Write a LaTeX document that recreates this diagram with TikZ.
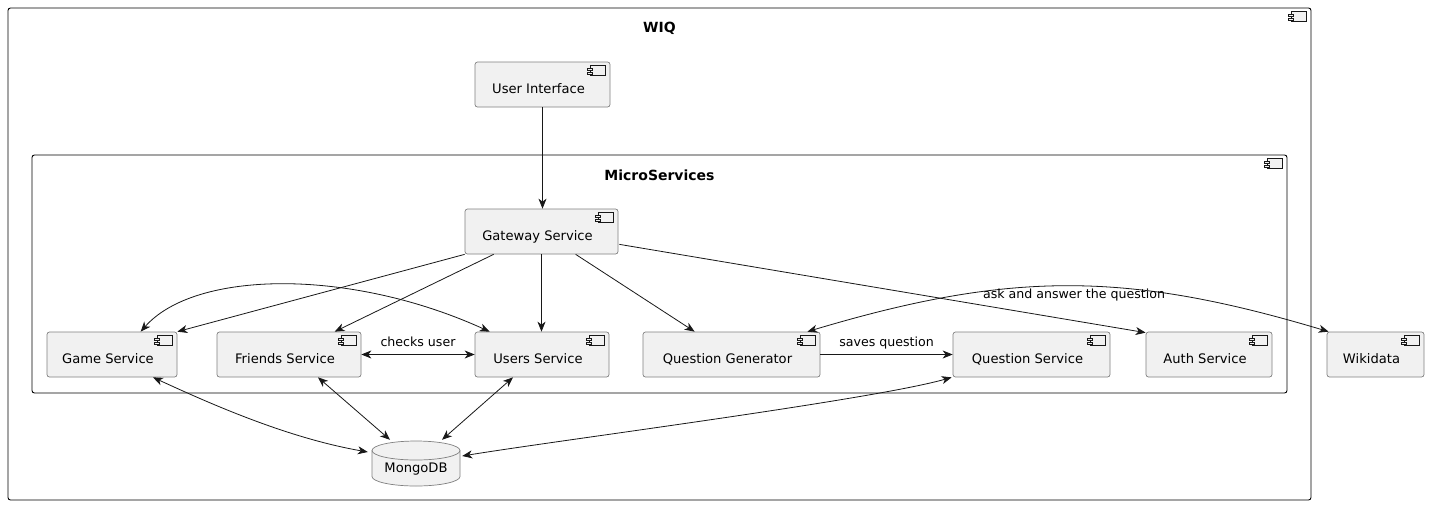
\documentclass[tikz,border=0pt]{standalone}
\usepackage{fontspec}
\setmainfont{DejaVu Sans}
\usetikzlibrary{arrows.meta,calc}
\definecolor{compfill}{HTML}{F1F1F1}
\definecolor{compline}{HTML}{181818}
\definecolor{compborder}{HTML}{808080}
\newcommand\compicon[1]{%
  \draw[compline, line width=0.6pt, fill=compfill] ($(#1.north east)+(-20,4)$) rectangle ++(15,10);
  \draw[compline, line width=0.6pt, fill=compfill] ($(#1.north east)+(-23,6.5)$) rectangle ++(5,2.5);
  \draw[compline, line width=0.6pt, fill=compfill] ($(#1.north east)+(-23,10.5)$) rectangle ++(5,2.5);
}
\tikzset{
  tip/.tip={Stealth[length=10pt,width=8pt,inset=3pt]},
}
\begin{document}
\begin{tikzpicture}[x=1pt,y=-1pt,
  comp/.style={draw=compborder, line width=0.7pt, fill=compfill, rounded corners=2.5pt,
    font=\fontsize{13.1}{16}\selectfont, text height=21pt, text depth=3pt,
    minimum height=45pt, inner sep=0pt, text=black,
    execute at end node={\hspace{8pt}}},
  cont/.style={draw=black, line width=0.9pt, rounded corners=2.5pt, fill=white, inner sep=0pt},
  ttl/.style={font=\fontsize{14}{16}\selectfont\bfseries, anchor=base, inner sep=0pt},
  elabel/.style={font=\fontsize{12.6}{15}\selectfont, anchor=base, inner sep=0pt},
  conn/.style={draw=compline, line width=0.8pt, -tip},
  bconn/.style={draw=compline, line width=0.8pt, tip-tip}]
\useasboundingbox (0,0) rectangle (1429,507);

% containers
\node[cont, minimum width=1303pt, minimum height=492pt] (wiq) at (659.5,254) {};
\compicon{wiq}
\node[ttl] (wiqtitle) at (659.5,32) {WIQ};
\node[cont, minimum width=1255pt, minimum height=238pt] (ms) at (659.5,274) {};
\compicon{ms}
\node[ttl] (mstitle) at (659.5,180) {MicroServices};

% components
\node[comp, minimum width=135pt] (ui) at (542.5,84.5) {User Interface};
\node[comp, minimum width=153pt] (gw) at (541.5,231.5) {Gateway Service};
\node[comp, minimum width=130pt] (game) at (112,354.5) {Game Service};
\node[comp, minimum width=144pt] (friends) at (289,354.5) {Friends Service};
\node[comp, minimum width=134pt] (users) at (542,354.5) {Users Service};
\node[comp, minimum width=177pt] (qg) at (731.5,354.5) {Question Generator};
\node[comp, minimum width=157pt] (qs) at (1031.5,354.5) {Question Service};
\node[comp, minimum width=126pt] (auth) at (1209,354.5) {Auth Service};
\node[comp, minimum width=97pt] (wiki) at (1375.5,354.5) {Wikidata};
\foreach \n in {ui,gw,game,friends,users,qg,qs,auth,wiki} {\compicon{\n}}

% database
\draw[draw=compborder, line width=0.7pt, fill=compfill]
  (372,450.5) -- (372,476.5) arc[start angle=180, end angle=0, x radius=44, y radius=9.5]
  -- (460,450.5) arc[start angle=0, end angle=-180, x radius=44, y radius=9.5] -- cycle;
\draw[draw=compborder, line width=0.7pt] (372,450.5) arc[start angle=180, end angle=0, x radius=44, y radius=9.5];
\node[font=\fontsize{13.1}{16}\selectfont, text height=21pt, text depth=3pt,
  minimum width=88pt, minimum height=45pt, inner sep=0pt] (mongo) at (416,463.5) {MongoDB};

% connectors
\draw[conn] (ui.south) -- (ui.south |- gw.north);
\draw[conn] (gw.south west) -- (game.north east);
\draw[conn] ($(gw.south west)+(29,0)$) -- ($(friends.north west)+(118,0)$);
\draw[conn] (gw.south) -- (gw.south |- users.north);
\draw[conn] ($(gw.south west)+(111,0)$) -- ($(qg.north west)+(52,0)$);
\draw[conn] ($(gw.south east)+(1,-10)$) -- ($(auth.north west)+(0,1)$);

\draw[bconn] ($(game.north west)+(94,0)$) .. controls (195,270) and (350,268) .. ($(users.north west)+(15,0)$);

\draw[bconn] (friends.east) -- (users.west) node[elabel, midway, yshift=8pt] (lblchecks) {checks user};
\draw[conn] (qg.east) -- (qs.west) node[elabel, midway, yshift=8pt] (lblsaves) {saves question};

\draw[bconn] ($(qg.north east)+(-13,0)$) .. controls (1010,271) and (1126,271) .. ($(wiki.north west)+(2,0)$);
\node[elabel] (lblask) at (1074,298) {ask and answer the question};

\draw[bconn] ($(game.south)+(41,0)$) .. controls (213,405) and (288,438) .. ($(mongo.west)+(-4,-11.5)$);
\draw[bconn] ($(friends.south)+(29,0)$) -- ($(mongo.north)+(-26,-1)$);
\draw[bconn] ($(users.south)+(-29,0)$) -- ($(mongo.north)+(26,-1)$);
\draw[bconn] ($(qs.south west)+(-1,0)$) .. controls (872,400) and (560,440) .. ($(mongo.east)+(2,-7.5)$);
\end{tikzpicture}
\end{document}
